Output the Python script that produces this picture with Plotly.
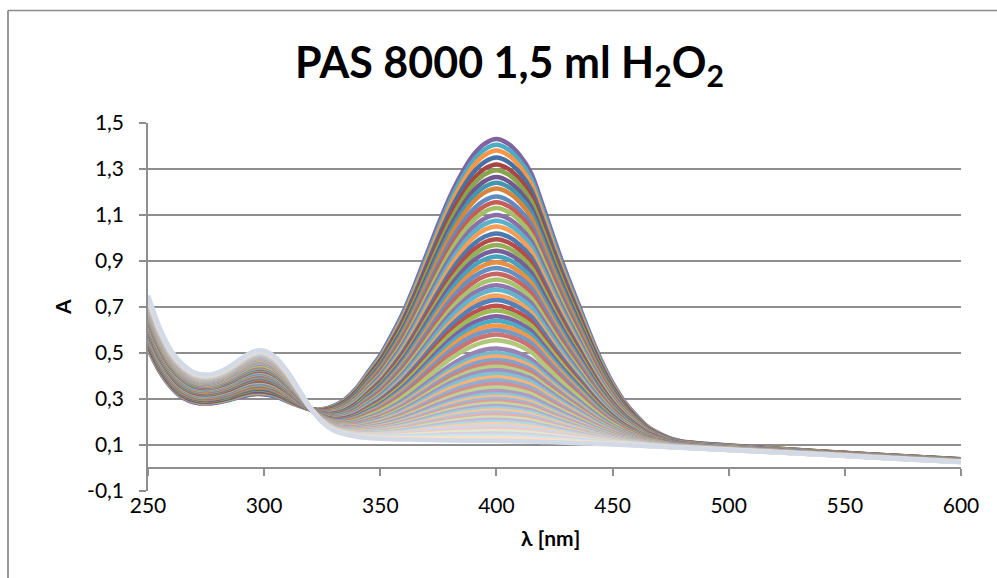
import plotly.graph_objects as go

# ---------------- data ----------------
wavelength = [250, 255, 260, 265, 270, 275, 280, 285, 290, 295, 300, 305, 310, 315,
              320, 325, 330, 335, 340, 345, 350, 355, 360, 365, 370, 375, 380, 385,
              390, 395, 400, 405, 410, 415, 420, 425, 430, 435, 440, 445, 450, 455,
              460, 465, 470, 475, 480, 490, 500, 520, 540, 560, 580, 600]

# first recorded spectrum (highest 400 nm band)
spectrum_first = [0.52, 0.42, 0.35, 0.305, 0.285, 0.28, 0.285, 0.295, 0.31, 0.32, 0.32, 0.31,
                  0.29, 0.27, 0.255, 0.255, 0.27, 0.30, 0.35, 0.42, 0.49, 0.58, 0.68, 0.80,
                  0.93, 1.06, 1.18, 1.28, 1.36, 1.41, 1.43, 1.41, 1.36, 1.28, 1.14, 0.99,
                  0.85, 0.72, 0.59, 0.47, 0.37, 0.29, 0.23, 0.18, 0.15, 0.128, 0.115, 0.105,
                  0.098, 0.085, 0.072, 0.06, 0.049, 0.038]

# last recorded spectrum (pale blue, top at 300 nm)
spectrum_last = [0.75, 0.61, 0.51, 0.45, 0.415, 0.405, 0.415, 0.44, 0.475, 0.505, 0.51, 0.48,
                 0.42, 0.34, 0.26, 0.20, 0.163, 0.146, 0.136, 0.13, 0.127, 0.125, 0.124, 0.123,
                 0.122, 0.121, 0.12, 0.119, 0.118, 0.118, 0.118, 0.117, 0.116, 0.115, 0.113, 0.112,
                 0.11, 0.108, 0.106, 0.104, 0.102, 0.1, 0.098, 0.095, 0.093, 0.09, 0.088, 0.083,
                 0.078, 0.068, 0.058, 0.047, 0.036, 0.026]

# absorbance at 400 nm of every recorded spectrum, in recording order
peak_400 = [1.43, 1.405, 1.38, 1.35, 1.32, 1.295, 1.265, 1.24, 1.215, 1.18,
            1.155, 1.13, 1.10, 1.075, 1.05, 1.02, 0.995, 0.97, 0.945, 0.92,
            0.895, 0.87, 0.845, 0.82, 0.795, 0.775, 0.75, 0.73, 0.705, 0.685,
            0.66, 0.64, 0.62, 0.60, 0.58, 0.555, 0.52, 0.50, 0.485, 0.47,
            0.455, 0.44, 0.425, 0.41, 0.395, 0.38, 0.365, 0.35, 0.335, 0.32,
            0.31, 0.30, 0.29, 0.28, 0.27, 0.26, 0.25, 0.24, 0.23, 0.22,
            0.21, 0.20, 0.19, 0.18, 0.17, 0.16, 0.15, 0.14, 0.13, 0.118]

y_tick_values = [-0.1, 0.1, 0.3, 0.5, 0.7, 0.9, 1.1, 1.3, 1.5]
y_tick_labels = ["-0,1", "0,1", "0,3", "0,5", "0,7", "0,9", "1,1", "1,3", "1,5"]
x_tick_values = [250, 300, 350, 400, 450, 500, 550, 600]
x_tick_labels = ["250", "300", "350", "400", "450", "500", "550", "600"]

# ---------------- styling ----------------
accents = ["#4F81BD", "#C0504D", "#9BBB59", "#8064A2", "#4BACC6", "#F79646"]
group_shade = [0.0, -0.12, 0.08, -0.05, 0.12, 0.0, 0.2, 0.28, 0.36, 0.44, 0.55, 0.7]


def shade(hex_color, t):
    r, g, b = int(hex_color[1:3], 16), int(hex_color[3:5], 16), int(hex_color[5:7], 16)
    if t >= 0:
        r, g, b = [c + (255 - c) * t for c in (r, g, b)]
    else:
        r, g, b = [c * (1 + t) for c in (r, g, b)]
    return "rgb(%d,%d,%d)" % (r, g, b)


i400 = wavelength.index(400)
p_first = spectrum_first[i400]
p_last = spectrum_last[i400]

fig = go.Figure()
n = len(peak_400)
for k, p in enumerate(peak_400):
    f = (p - p_last) / (p_first - p_last)
    y = [l + f * (a - l) for a, l in zip(spectrum_first, spectrum_last)]
    color = shade(accents[(k + 3) % 6], group_shade[min((k + 3) // 6, len(group_shade) - 1)])
    if k == n - 1:
        color = "#D2DAE8"
    fig.add_trace(go.Scatter(x=wavelength, y=y, mode="lines",
                             line=dict(color=color, width=4.5, shape="spline", smoothing=0.8),
                             showlegend=False, hoverinfo="skip"))

# helper trace so the axis drawn through zero exists
fig.add_trace(go.Scatter(x=[None], y=[None], xaxis="x2", showlegend=False, hoverinfo="skip"))

FONT = "Lato"
GRID = "#8E8E8E"

fig.update_layout(
    width=997, height=578,
    margin=dict(l=148, r=36, t=123, b=87),
    paper_bgcolor="white", plot_bgcolor="white",
    font=dict(family=FONT, color="black"),
    xaxis=dict(range=[250, 600], tickvals=x_tick_values, ticktext=x_tick_labels,
               showgrid=False, zeroline=False, showline=False, ticks="",
               tickfont=dict(size=21, family=FONT), ticklabelstandoff=0),
    xaxis2=dict(range=[250, 600], overlaying="x", anchor="free", position=0.1 / 1.6,
                showgrid=False, zeroline=False, showline=True, linecolor=GRID, linewidth=1.5,
                ticks="outside", ticklen=7, tickcolor=GRID, tickwidth=1.5,
                tickvals=x_tick_values, showticklabels=False),
    yaxis=dict(range=[-0.1, 1.5], tickvals=y_tick_values, ticktext=y_tick_labels,
               showgrid=True, gridcolor=GRID, gridwidth=1.5, zeroline=False,
               showline=True, linecolor=GRID, linewidth=1.5,
               ticks="outside", ticklen=7, tickcolor=GRID, tickwidth=1.5,
               tickfont=dict(size=21, family=FONT), ticklabelstandoff=11),
    annotations=[
        dict(text="<b>PAS 8000 1,5 ml H<sub>2</sub>O<sub>2</sub></b>", xref="paper", yref="paper",
             x=(509 - 148) / 813, y=1 + (123 - 64) / 368, xanchor="center", yanchor="middle",
             showarrow=False, font=dict(size=43, family=FONT, color="black")),
        dict(text="<b>A</b>", xref="paper", yref="paper", x=(62 - 148) / 813, y=0.5,
             xanchor="center", yanchor="middle", textangle=-90, showarrow=False,
             font=dict(size=21, family=FONT, color="black")),
        dict(text="<b>λ [nm]</b>", xref="paper", yref="paper", x=(550 - 148) / 813,
             y=(491 - 537) / 368, xanchor="center", yanchor="middle", showarrow=False,
             font=dict(size=21, family=FONT, color="black")),
    ],
    shapes=[
        dict(type="line", xref="paper", yref="paper", x0=(8 - 148) / 813, x1=(8 - 148) / 813,
             y0=1 + (123 - 10.5) / 368, y1=-0.3, line=dict(color="#8C8C8C", width=1.8)),
        dict(type="line", xref="paper", yref="paper", x0=(8 - 148) / 813, x1=1.1,
             y0=1 + (123 - 10.5) / 368, y1=1 + (123 - 10.5) / 368,
             line=dict(color="#8C8C8C", width=1.5)),
    ],
)

fig.write_html("out.html")
